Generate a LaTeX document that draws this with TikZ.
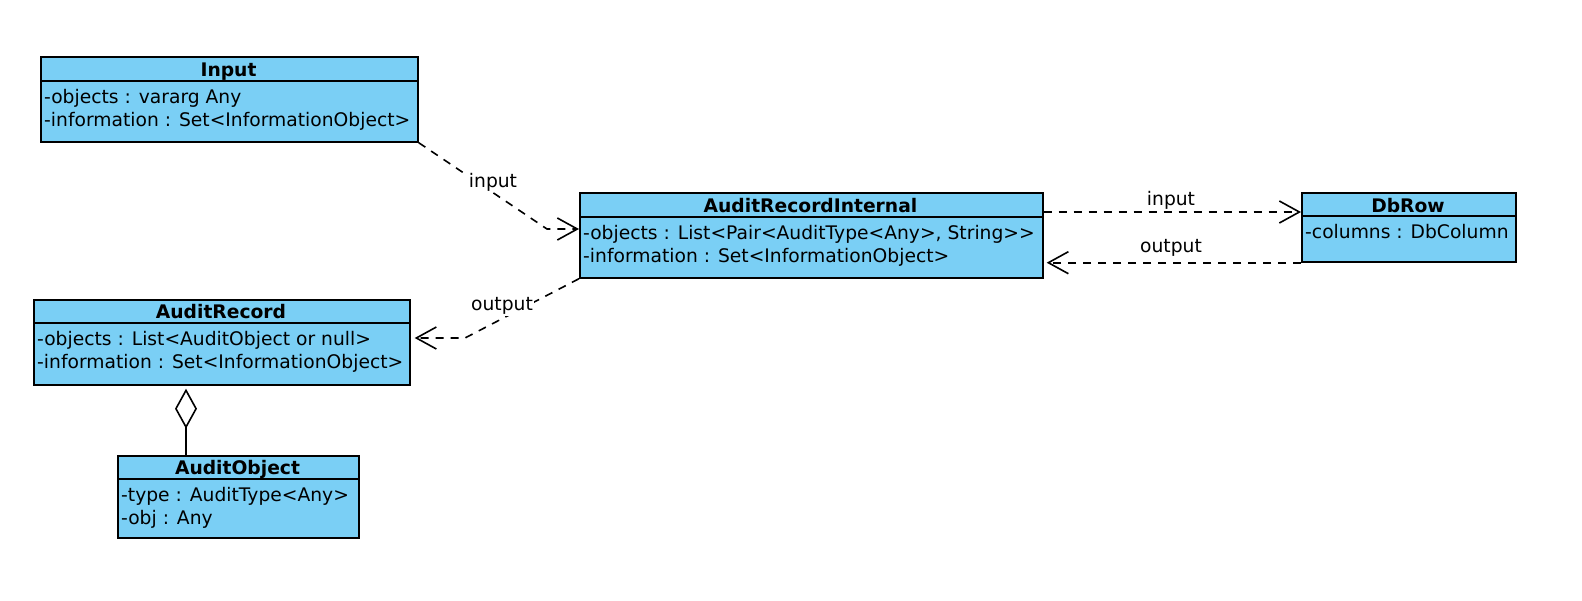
\documentclass[tikz,border=0pt]{standalone}
\usepackage{fontspec}
\setmainfont{DejaVu Sans}
\usetikzlibrary{arrows.meta}
\definecolor{classfill}{RGB}{122,207,245}
\begin{document}
\begin{tikzpicture}[x=1pt,y=-1pt,
  classbox/.style={draw,fill=classfill,line width=1.7pt,inner sep=0pt,anchor=north west},
  classname/.style={font=\fontsize{18.7}{22}\selectfont\bfseries,anchor=base,inner sep=0pt},
  attrib/.style={font=\fontsize{18.7}{22}\selectfont,anchor=base west,inner sep=0pt},
  lien/.style={line width=1.6pt,dash pattern=on 8pt off 7pt,-{Straight Barb[length=20pt,width=22pt]}},
  etiquette/.style={font=\fontsize{18.7}{22}\selectfont,inner sep=1pt}]

\useasboundingbox (0,0) rectangle (1582,600);

% classe Input

\node[classbox,minimum width=377pt,minimum height=85pt] (input) at (40,56) {};
\draw[line width=1.7pt] (input.west |- 0,81) -- (input.east |- 0,81) ;
\node[classname] (input_nom) at (228.5,76) {Input};
\node[attrib] (input_a1) at (44,103) {-objects : vararg Any};
\node[attrib] (input_a2) at (44,126) {-information : Set<InformationObject>};

% classe AuditRecordInternal

\node[classbox,minimum width=463pt,minimum height=85pt] (ari) at (579,192) {};
\draw[line width=1.7pt] (ari.west |- 0,217) -- (ari.east |- 0,217) ;
\node[classname] (ari_nom) at (810.5,212) {AuditRecordInternal};
\node[attrib] (ari_a1) at (583,239) {-objects : List<Pair<AuditType<Any>, String>{}>};
\node[attrib] (ari_a2) at (583,262) {-information : Set<InformationObject>};

% classe DbRow

\node[classbox,minimum width=214pt,minimum height=69pt] (dbrow) at (1301,192) {};
\draw[line width=1.7pt] (dbrow.west |- 0,216) -- (dbrow.east |- 0,216) ;
\node[classname] (dbrow_nom) at (1408,212) {DbRow};
\node[attrib] (dbrow_a1) at (1305,238) {-columns : DbColumn};

% classe AuditRecord

\node[classbox,minimum width=376pt,minimum height=85pt] (arec) at (33,299) {};
\draw[line width=1.7pt] (arec.west |- 0,323) -- (arec.east |- 0,323) ;
\node[classname] (arec_nom) at (221,318) {AuditRecord};
\node[attrib] (arec_a1) at (37,345) {-objects : List<AuditObject or null>};
\node[attrib] (arec_a2) at (37,368) {-information : Set<InformationObject>};

% classe AuditObject

\node[classbox,minimum width=241pt,minimum height=82pt] (aobj) at (117,455) {};
\draw[line width=1.7pt] (aobj.west |- 0,479) -- (aobj.east |- 0,479) ;
\node[classname] (aobj_nom) at (237.5,474) {AuditObject};
\node[attrib] (aobj_a1) at (121,501) {-type : AuditType<Any>};
\node[attrib] (aobj_a2) at (121,524) {-obj : Any};

% dependances

\coordinate (coude_in) at (547,229) ;
\draw[lien] (input.south east) -- (coude_in) -- (ari.west |- coude_in) ;
\node[etiquette,fill=white] (lbl_in1) at (493,182) {input};

\coordinate (coude_out) at (465,338) ;
\draw[lien,shorten >=4pt] (ari.south west) -- (coude_out) -- (arec.east |- coude_out) ;
\node[etiquette,fill=white] (lbl_out1) at (502,306) {output};

\coordinate (haut) at (0,212) ;
\draw[lien] (ari.east |- haut) -- (dbrow.west |- haut) ;
\node[etiquette] (lbl_in2) at (1171,200) {input};

\draw[lien,shorten >=3pt] (dbrow.south west) -- (ari.east |- dbrow.south west) ;
\node[etiquette] (lbl_out2) at (1171,248) {output};

% agregation

\coordinate (agg) at (186,0) ;
\draw[line width=1.6pt,shorten >=3pt,-{Diamond[open,length=40pt,width=22pt]}] (aobj.north -| agg) -- (arec.south -| agg) ;

\end{tikzpicture}
\end{document}
